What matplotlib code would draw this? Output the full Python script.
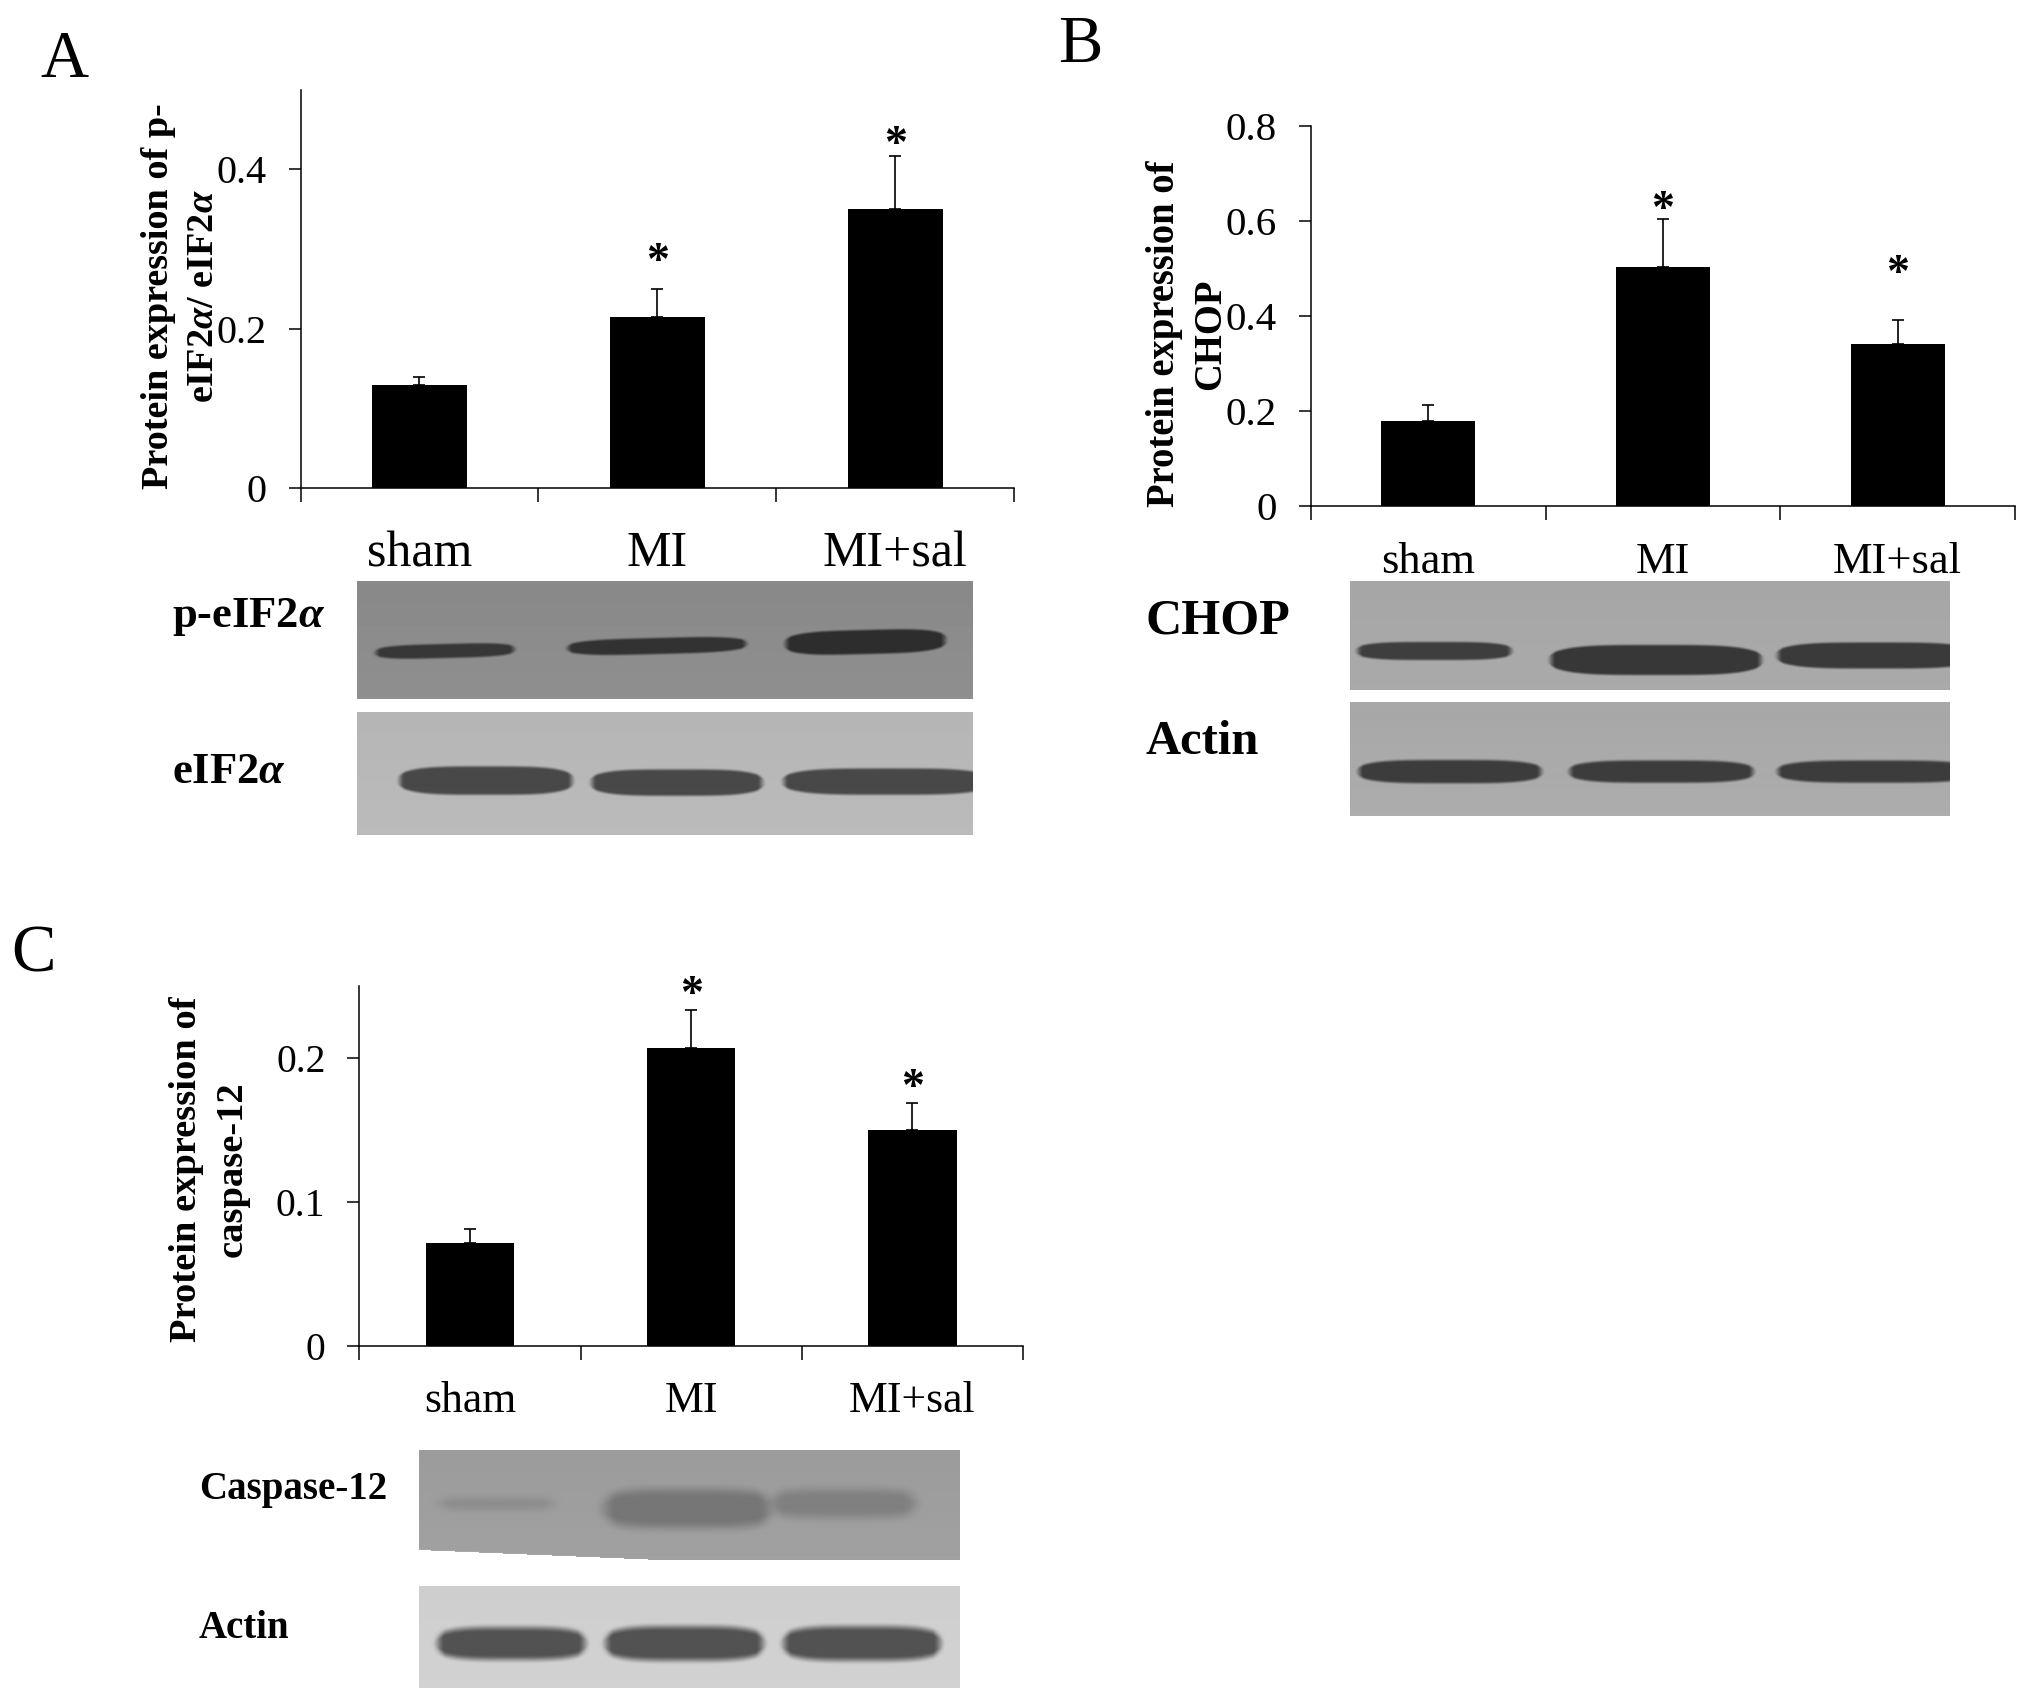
import numpy as np
import matplotlib
matplotlib.use("Agg")
import matplotlib.pyplot as plt

plt.rcParams['font.family'] = ['Liberation Serif', 'DejaVu Serif']
plt.rcParams['mathtext.fontset'] = 'custom'
plt.rcParams['mathtext.rm'] = 'Liberation Serif:bold'
plt.rcParams['mathtext.it'] = 'Liberation Serif:italic:bold'
plt.rcParams['mathtext.bf'] = 'Liberation Serif:bold'

W, H = 2031, 1701

categories = ['sham', 'MI', 'MI+sal']

a_values = [0.13, 0.215, 0.35]
a_errors = [0.009, 0.035, 0.067]
a_stars = [None, 0.295, 0.442]

b_values = [0.18, 0.503, 0.342]
b_errors = [0.034, 0.101, 0.050]
b_stars = [None, 0.641, 0.508]

c_values = [0.0715, 0.207, 0.150]
c_errors = [0.0095, 0.026, 0.0185]
c_stars = [None, 0.25, 0.1855]

fig = plt.figure(figsize=(W / 100, H / 100), dpi=100, facecolor='white')

layer = fig.add_axes([0, 0, 1, 1])
layer.set_xlim(0, W)
layer.set_ylim(H, 0)
layer.axis('off')


def blot(box, bg, bands, soft=(10, 4.0), slant=None, slope=0.0):
    x0, y0, x1, y1 = box
    xs = np.arange(x0, x1) + 0.5
    ys = np.arange(y0, y1) + 0.5
    X, Y = np.meshgrid(xs, ys)
    img = np.full(X.shape, bg / 255.0, dtype=float)
    img += (Y - y0) / (y1 - y0) * 0.02 - 0.01
    for bx0, bx1, yc, h, dark in bands:
        c = (bx0 + bx1) / 2
        half = (bx1 - bx0) / 2 + soft[0] * 0.5
        u = np.clip(np.abs(X - c) / half, 0, 1)
        hh = h * (1 - u ** 4) ** 0.5
        yy = yc + slope * (X - c)
        edge_y = np.clip((hh - np.abs(Y - yy)) / soft[1] + 0.5, 0, 1)
        edge_x = np.clip((half - np.abs(X - c)) / soft[0], 0, 1)
        m = edge_y * edge_x
        m = m * m * (3 - 2 * m)
        img = img * (1 - m) + (dark / 255.0) * m
    if slant is not None:
        xa, ya, xb, yb = slant
        bottom = np.interp(X, [xa, xb], [ya, yb])
        img[Y > bottom] = 1.0
    layer.imshow(np.clip(img, 0, 1), cmap='gray', vmin=0, vmax=1, aspect='auto',
                 extent=(x0, x1, y1, y0), interpolation='bilinear', zorder=1)


blot((357, 581, 973, 699), 140, [(376, 514, 651, 7, 55), (568, 746, 646, 8, 50), (786, 945, 642, 12, 45)], slope=-0.025)
blot((357, 713, 973, 835), 184, [(400, 572, 781, 14, 72), (592, 762, 783, 13, 72), (784, 990, 782, 13, 72)])
blot((1350, 581, 1950, 690), 168, [(1358, 1511, 651, 9, 62), (1551, 1761, 660, 15, 55), (1778, 1975, 655.5, 13, 58)])
blot((1350, 703, 1950, 816), 170, [(1359, 1541, 772, 11.5, 60), (1570, 1753, 772, 11, 60), (1778, 1975, 772, 11, 60)])
blot((419, 1451, 960, 1560), 158, [(438, 555, 1504, 5, 138), (605, 770, 1509, 19, 118), (772, 915, 1504, 14, 128)],
     soft=(24, 16), slant=(419, 1550, 660, 1560))
blot((419, 1586, 960, 1688), 208, [(438, 585, 1643.5, 16, 82), (606, 763, 1643.5, 17, 82), (784, 940, 1643.5, 17, 82)],
     soft=(14, 10))
layer.set_xlim(0, W)
layer.set_ylim(H, 0)


def panel(box, ymax, yticks, ylabels, values, errors, stars, cat_size, tick_size, cat_pad, bar_w):
    l, t, r, b = box
    ax = fig.add_axes([l / W, 1 - b / H, (r - l) / W, (b - t) / H], facecolor='none')
    x = np.arange(len(values))
    ax.bar(x, values, width=bar_w, color='black', zorder=2)
    ax.errorbar(x, values, yerr=[np.zeros(len(errors)), errors], fmt='none', ecolor='black',
                elinewidth=1.2, capsize=4.5, capthick=1.2, zorder=1)
    ax.set_xlim(-0.5, len(values) - 0.5)
    ax.set_ylim(0, ymax)
    ax.spines['top'].set_visible(False)
    ax.spines['right'].set_visible(False)
    ax.spines['left'].set_linewidth(1.1)
    ax.spines['bottom'].set_linewidth(1.1)
    ax.set_yticks(yticks)
    ax.set_yticklabels(ylabels, fontsize=tick_size)
    ax.tick_params(axis='y', length=8.5, width=1.1, pad=16)
    ax.set_xticks(np.arange(len(values) + 1) - 0.5)
    ax.set_xticklabels([])
    ax.tick_params(axis='x', which='major', length=10, width=1.1)
    ax.set_xticks(x, minor=True)
    ax.set_xticklabels(categories, minor=True, fontsize=cat_size)
    ax.tick_params(axis='x', which='minor', length=0, pad=cat_pad)
    for i, s in enumerate(stars):
        if s is not None:
            ax.annotate('*', (i, s), xytext=(0, -15), textcoords='offset points', ha='center',
                        va='baseline', fontsize=33, fontweight='bold', annotation_clip=False)
    return ax


panel((300.6, 89.6, 1014, 488.2), 0.5, [0, 0.2, 0.4], ['0', '0.2', '0.4'],
      a_values, a_errors, a_stars, 36, 29, 30.5, 0.4)
panel((1311, 126, 2015, 506.3), 0.8, [0, 0.2, 0.4, 0.6, 0.8], ['0', '0.2', '0.4', '0.6', '0.8'],
      b_values, b_errors, b_stars, 32, 29.5, 26, 0.4)
panel((359.5, 986, 1023, 1346), 0.25, [0, 0.1, 0.2], ['0', '0.1', '0.2'],
      c_values, c_errors, c_stars, 31.5, 28.5, 25, 0.4)

# y axis titles
layer.text(181, 296, 'Protein expression of p-\neIF2$\\mathit{α}$/ eIF2$\\mathit{α}$', rotation=90,
           ha='center', va='center', ma='center', fontsize=27.5, fontweight='bold', linespacing=1.4, zorder=5)
layer.text(1188, 334, 'Protein expression of\nCHOP', rotation=90, ha='center', va='center', ma='center',
           fontsize=27.8, fontweight='bold', linespacing=1.33, zorder=5)
layer.text(209, 1169, 'Protein expression of\ncaspase-12', rotation=90, ha='center', va='center', ma='center',
           fontsize=27.7, fontweight='bold', linespacing=1.38, zorder=5)

# panel letters
layer.text(40, 77, 'A', fontsize=48, va='baseline', ha='left')
layer.text(1058, 62, 'B', fontsize=48, va='baseline', ha='left')
layer.text(11, 971, 'C', fontsize=48, va='baseline', ha='left')

# blot labels
layer.text(172, 617, 'p-eIF2$\\mathit{α}$', fontsize=32, fontweight='bold', va='center', ha='left')
layer.text(172, 772, 'eIF2$\\mathit{α}$', fontsize=32, fontweight='bold', va='center', ha='left')
layer.text(1145, 621, 'CHOP', fontsize=36, fontweight='bold', va='center', ha='left')
layer.text(1145, 742, 'Actin', fontsize=35, fontweight='bold', va='center', ha='left')
layer.text(199, 1489, 'Caspase-12', fontsize=28, fontweight='bold', va='center', ha='left')
layer.text(199, 1628, 'Actin', fontsize=28, fontweight='bold', va='center', ha='left')

fig.savefig('out.png', dpi=100, facecolor='white')
